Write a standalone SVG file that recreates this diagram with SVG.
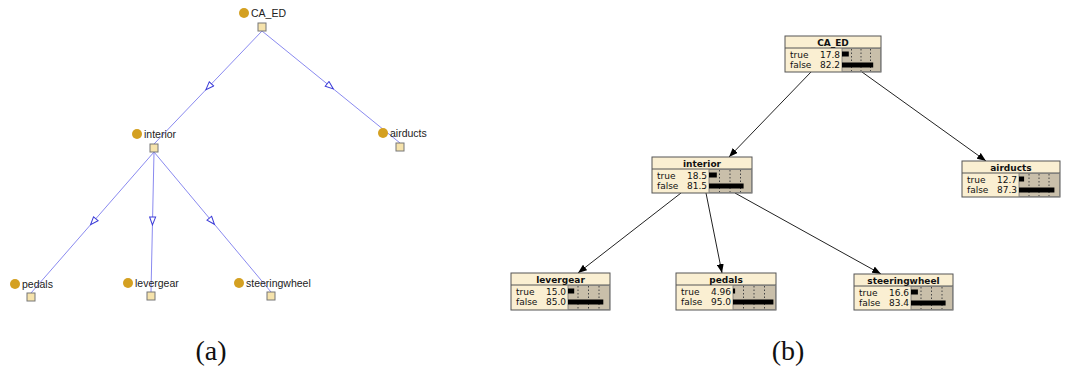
<svg xmlns="http://www.w3.org/2000/svg" width="1067" height="370" viewBox="0 0 1067 370">
<defs>
<marker id="open" markerWidth="10" markerHeight="8" refX="6" refY="4" orient="auto" markerUnits="userSpaceOnUse" viewBox="0 0 10 8">
<path d="M1,1 L9,4 L1,7 Z" fill="#fff" stroke="#3c3cd8" stroke-width="1"/>
</marker>
<marker id="solid" markerWidth="9" markerHeight="7" refX="9" refY="3.5" orient="auto" markerUnits="userSpaceOnUse" viewBox="0 0 9 7">
<path d="M0,0 L9,3.5 L0,7 Z" fill="#000"/>
</marker>
</defs>
<style>
.ea{stroke:#8a8af0;stroke-width:1;fill:none;marker-mid:url(#open)}
.eb{stroke:#222;stroke-width:1;fill:none;marker-end:url(#solid)}
.dot{fill:#d4a021}
.sq{fill:#f6e3ac;stroke:#777;stroke-width:1}
.la{font-family:"Liberation Sans",Arial,sans-serif;font-size:10.5px;fill:#222}
.box{fill:#faefd2;stroke:#555;stroke-width:1}
.gray{fill:#c9bfaa;stroke:#777;stroke-width:0.8}
.hd{font-family:"DejaVu Sans",sans-serif;font-size:9px;font-weight:bold;fill:#111;text-anchor:middle}
.tx{font-family:"DejaVu Sans",sans-serif;font-size:9px;fill:#111}
.val{text-anchor:end}
.grid{stroke:#444;stroke-width:1;stroke-dasharray:1.5,2}
.bar{fill:#000}
.cap{font-family:"Liberation Serif","DejaVu Serif",serif;font-size:28px;fill:#111;text-anchor:middle}
</style>
<rect width="1067" height="370" fill="#fff"/>
<g id="connectors">
<path class="ea" d="M262,31 L208,87.5 L154,144"/>
<path class="ea" d="M262,31 L331,87 L400,143"/>
<path class="ea" d="M154,152 L92.5,222.5 L31,293"/>
<path class="ea" d="M154,152 L152.5,222 L151,292"/>
<path class="ea" d="M154,152 L212.5,222 L271,292"/>
<path class="eb" d="M811,72 L729,157"/>
<path class="eb" d="M862,72 L986,161"/>
<path class="eb" d="M681,193 L578,273"/>
<path class="eb" d="M706,193 L722,273"/>
<path class="eb" d="M735,193 L881,274"/>
</g>
<g id="a-CA_ED"><circle class="dot" cx="244" cy="13" r="5"/><text class="la" x="251" y="17">CA_ED</text><rect class="sq" x="258" y="23" width="8" height="8"/></g>
<g id="a-interior"><circle class="dot" cx="137" cy="134" r="5"/><text class="la" x="144" y="138">interior</text><rect class="sq" x="150" y="144" width="8" height="8"/></g>
<g id="a-airducts"><circle class="dot" cx="383" cy="133" r="5"/><text class="la" x="390" y="137">airducts</text><rect class="sq" x="396" y="143" width="8" height="8"/></g>
<g id="a-pedals"><circle class="dot" cx="15" cy="284" r="5"/><text class="la" x="22" y="288">pedals</text><rect class="sq" x="27" y="293" width="8" height="8"/></g>
<g id="a-levergear"><circle class="dot" cx="128" cy="283" r="5"/><text class="la" x="135" y="287">levergear</text><rect class="sq" x="147" y="292" width="8" height="8"/></g>
<g id="a-steeringwheel"><circle class="dot" cx="239" cy="283" r="5"/><text class="la" x="246" y="287">steeringwheel</text><rect class="sq" x="267" y="292" width="8" height="8"/></g>

<g id="b-CA_ED" transform="translate(785,36)">
<rect class="box" x="0" y="0" width="96" height="36"/><line x1="0" y1="12" x2="96" y2="12" stroke="#555"/>
<rect class="gray" x="57" y="12.5" width="38.5" height="23"/>
<line class="grid" x1="66.5" y1="13" x2="66.5" y2="35"/><line class="grid" x1="76" y1="13" x2="76" y2="35"/><line class="grid" x1="85.5" y1="13" x2="85.5" y2="35"/>
<rect class="bar" x="57" y="15.5" width="6.8" height="5"/><rect class="bar" x="57" y="26.5" width="31.2" height="5"/>
<text class="hd" x="48" y="9.5">CA_ED</text>
<text class="tx" x="5" y="22">true</text><text class="tx val" x="55" y="22">17.8</text>
<text class="tx" x="5" y="32">false</text><text class="tx val" x="55" y="32">82.2</text>
</g>
<g id="b-interior" transform="translate(652,157)">
<rect class="box" x="0" y="0" width="100" height="36"/><line x1="0" y1="12" x2="100" y2="12" stroke="#555"/>
<rect class="gray" x="57" y="12.5" width="42.5" height="23"/>
<line class="grid" x1="67.5" y1="13" x2="67.5" y2="35"/><line class="grid" x1="78" y1="13" x2="78" y2="35"/><line class="grid" x1="88.5" y1="13" x2="88.5" y2="35"/>
<rect class="bar" x="57" y="15.5" width="7.8" height="5"/><rect class="bar" x="57" y="26.5" width="34.6" height="5"/>
<text class="hd" x="50" y="9.5">interior</text>
<text class="tx" x="5" y="22">true</text><text class="tx val" x="55" y="22">18.5</text>
<text class="tx" x="5" y="32">false</text><text class="tx val" x="55" y="32">81.5</text>
</g>
<g id="b-airducts" transform="translate(962,161)">
<rect class="box" x="0" y="0" width="98" height="36"/><line x1="0" y1="12" x2="98" y2="12" stroke="#555"/>
<rect class="gray" x="57" y="12.5" width="40.5" height="23"/>
<line class="grid" x1="67" y1="13" x2="67" y2="35"/><line class="grid" x1="77" y1="13" x2="77" y2="35"/><line class="grid" x1="87" y1="13" x2="87" y2="35"/>
<rect class="bar" x="57" y="15.5" width="5.1" height="5"/><rect class="bar" x="57" y="26.5" width="35.4" height="5"/>
<text class="hd" x="49" y="9.5">airducts</text>
<text class="tx" x="5" y="22">true</text><text class="tx val" x="55" y="22">12.7</text>
<text class="tx" x="5" y="32">false</text><text class="tx val" x="55" y="32">87.3</text>
</g>
<g id="b-levergear" transform="translate(511,273)">
<rect class="box" x="0" y="0" width="99" height="37"/><line x1="0" y1="12" x2="99" y2="12" stroke="#555"/>
<rect class="gray" x="57" y="12.5" width="41.5" height="24"/>
<line class="grid" x1="67" y1="13" x2="67" y2="36"/><line class="grid" x1="77.5" y1="13" x2="77.5" y2="36"/><line class="grid" x1="88" y1="13" x2="88" y2="36"/>
<rect class="bar" x="57" y="15.5" width="6.2" height="5"/><rect class="bar" x="57" y="26.5" width="35.3" height="5"/>
<text class="hd" x="49.5" y="9.5">levergear</text>
<text class="tx" x="5" y="22">true</text><text class="tx val" x="55" y="22">15.0</text>
<text class="tx" x="5" y="32">false</text><text class="tx val" x="55" y="32">85.0</text>
</g>
<g id="b-pedals" transform="translate(676,273)">
<rect class="box" x="0" y="0" width="100" height="37"/><line x1="0" y1="12" x2="100" y2="12" stroke="#555"/>
<rect class="gray" x="57" y="12.5" width="42.5" height="24"/>
<line class="grid" x1="67.5" y1="13" x2="67.5" y2="36"/><line class="grid" x1="78" y1="13" x2="78" y2="36"/><line class="grid" x1="88.5" y1="13" x2="88.5" y2="36"/>
<rect class="bar" x="57" y="15.5" width="2.1" height="5"/><rect class="bar" x="57" y="26.5" width="40.4" height="5"/>
<text class="hd" x="50" y="9.5">pedals</text>
<text class="tx" x="5" y="22">true</text><text class="tx val" x="55" y="22">4.96</text>
<text class="tx" x="5" y="32">false</text><text class="tx val" x="55" y="32">95.0</text>
</g>
<g id="b-steeringwheel" transform="translate(854,274)">
<rect class="box" x="0" y="0" width="99" height="36"/><line x1="0" y1="12" x2="99" y2="12" stroke="#555"/>
<rect class="gray" x="57" y="12.5" width="41.5" height="23"/>
<line class="grid" x1="67" y1="13" x2="67" y2="35"/><line class="grid" x1="77.5" y1="13" x2="77.5" y2="35"/><line class="grid" x1="88" y1="13" x2="88" y2="35"/>
<rect class="bar" x="57" y="15.5" width="6.9" height="5"/><rect class="bar" x="57" y="26.5" width="34.6" height="5"/>
<text class="hd" x="49.5" y="9.5">steeringwheel</text>
<text class="tx" x="5" y="22">true</text><text class="tx val" x="55" y="22">16.6</text>
<text class="tx" x="5" y="32">false</text><text class="tx val" x="55" y="32">83.4</text>
</g>
<text class="cap" x="211" y="360">(a)</text>
<text class="cap" x="788" y="360">(b)</text>
</svg>
